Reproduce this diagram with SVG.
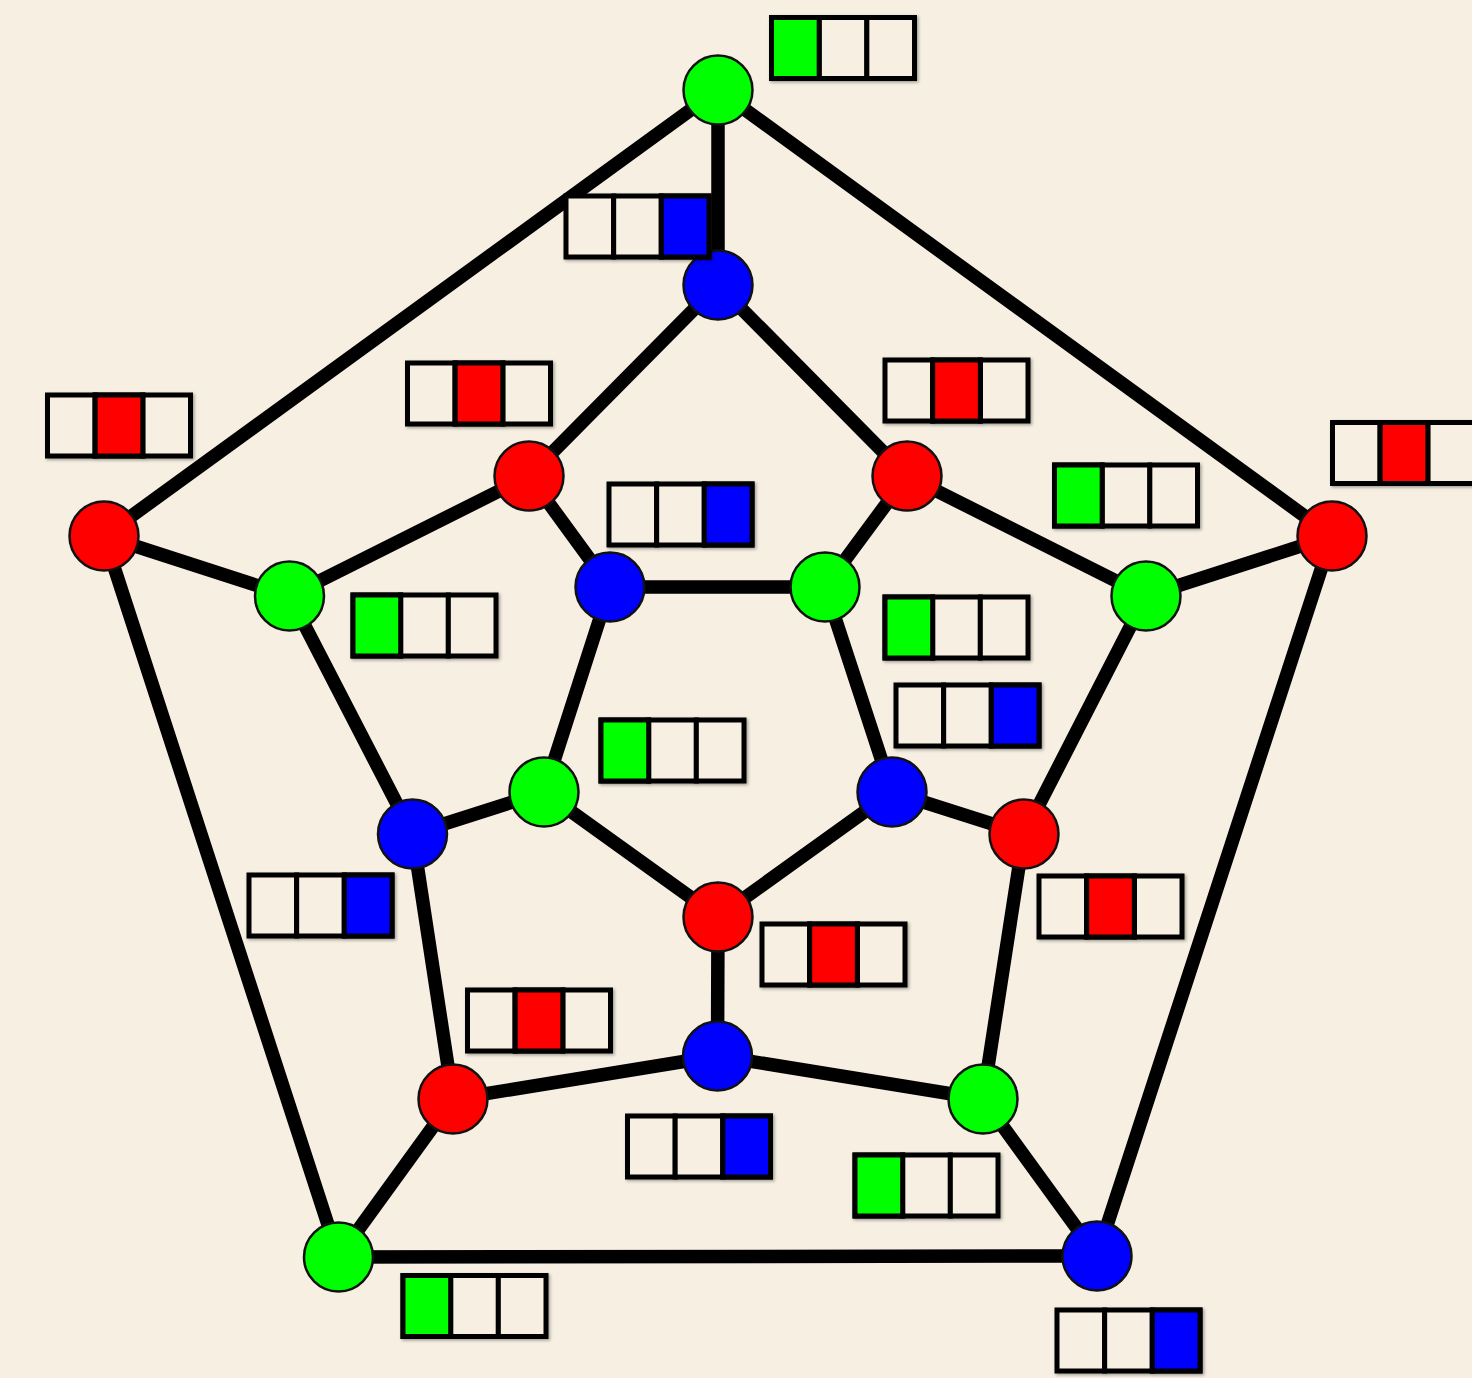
<svg xmlns="http://www.w3.org/2000/svg" width="1472" height="1378" viewBox="0 0 1472 1378">
  <style>
    .edge { stroke: #000; stroke-width: 13.5; stroke-linecap: round; fill: none; }
    .node { stroke: #111; stroke-width: 2.5; }
    .cell { stroke: #000; stroke-width: 5; fill: #f6efe2; }
    .g, .cell.g { fill: #00ff00; }
    .r, .cell.r { fill: #ff0000; }
    .b, .cell.b { fill: #0000ff; }
    .box { filter: url(#soft); }
  </style>
  <defs>
    <filter id="soft" x="-10%" y="-20%" width="130%" height="150%">
      <feDropShadow dx="1.5" dy="1.5" stdDeviation="1.8" flood-color="#000" flood-opacity="0.35"/>
    </filter>
    <!-- three-slot colour label: cells are 47.67 wide, 61 tall -->
    <g id="slots">
      <rect class="cell" x="0" y="0" width="47.67" height="61"/>
      <rect class="cell" x="47.67" y="0" width="47.67" height="61"/>
      <rect class="cell" x="95.33" y="0" width="47.67" height="61"/>
    </g>
  </defs>

  <rect width="1472" height="1378" fill="#f6efe2"/>

  <!-- edges of the dodecahedron graph -->
  <g id="edges">
    <!-- outer pentagon -->
    <line class="edge" x1="718" y1="90" x2="104" y2="536"/>
    <line class="edge" x1="718" y1="90" x2="1332" y2="536"/>
    <line class="edge" x1="104" y1="536" x2="338.5" y2="1257"/>
    <line class="edge" x1="1332" y1="536" x2="1097" y2="1256"/>
    <line class="edge" x1="338.5" y1="1257" x2="1097" y2="1256"/>
    <!-- spokes outer to middle ring -->
    <line class="edge" x1="718" y1="90" x2="718" y2="285"/>
    <line class="edge" x1="104" y1="536" x2="289.5" y2="596"/>
    <line class="edge" x1="1332" y1="536" x2="1146" y2="596"/>
    <line class="edge" x1="338.5" y1="1257" x2="453" y2="1099"/>
    <line class="edge" x1="1097" y1="1256" x2="983" y2="1099"/>
    <!-- middle ring -->
    <line class="edge" x1="718" y1="285" x2="529" y2="476"/>
    <line class="edge" x1="718" y1="285" x2="907" y2="476"/>
    <line class="edge" x1="529" y1="476" x2="289.5" y2="596"/>
    <line class="edge" x1="907" y1="476" x2="1146" y2="596"/>
    <line class="edge" x1="289.5" y1="596" x2="412.5" y2="834"/>
    <line class="edge" x1="1146" y1="596" x2="1024" y2="834"/>
    <line class="edge" x1="412.5" y1="834" x2="453" y2="1099"/>
    <line class="edge" x1="1024" y1="834" x2="983" y2="1099"/>
    <line class="edge" x1="453" y1="1099" x2="717.5" y2="1056"/>
    <line class="edge" x1="983" y1="1099" x2="717.5" y2="1056"/>
    <!-- spokes middle to inner -->
    <line class="edge" x1="529" y1="476" x2="610" y2="587"/>
    <line class="edge" x1="907" y1="476" x2="825" y2="587"/>
    <line class="edge" x1="412.5" y1="834" x2="544" y2="792"/>
    <line class="edge" x1="1024" y1="834" x2="892" y2="792"/>
    <line class="edge" x1="717.5" y1="1056" x2="718" y2="917"/>
    <!-- inner pentagon -->
    <line class="edge" x1="610" y1="587" x2="825" y2="587"/>
    <line class="edge" x1="610" y1="587" x2="544" y2="792"/>
    <line class="edge" x1="825" y1="587" x2="892" y2="792"/>
    <line class="edge" x1="544" y1="792" x2="718" y2="917"/>
    <line class="edge" x1="892" y1="792" x2="718" y2="917"/>
  </g>

  <!-- vertices with their colour labels -->
  <g id="n1">
    <circle class="node g" cx="718" cy="90" r="34.5"/>
    <g class="box" transform="translate(771.5 17.5)"><use href="#slots"/><rect class="cell g" x="0" y="0" width="47.67" height="61"/></g>
  </g>
  <g id="n2">
    <circle class="node r" cx="104" cy="536" r="34.5"/>
    <g class="box" transform="translate(47.5 395)"><use href="#slots"/><rect class="cell r" x="47.67" y="0" width="47.67" height="61"/></g>
  </g>
  <g id="n3">
    <circle class="node r" cx="1332" cy="536" r="34.5"/>
    <g class="box" transform="translate(1332.5 422.5)"><use href="#slots"/><rect class="cell r" x="47.67" y="0" width="47.67" height="61"/></g>
  </g>
  <g id="n4">
    <circle class="node g" cx="338.5" cy="1257" r="34.5"/>
    <g class="box" transform="translate(403 1275.5)"><use href="#slots"/><rect class="cell g" x="0" y="0" width="47.67" height="61"/></g>
  </g>
  <g id="n5">
    <circle class="node b" cx="1097" cy="1256" r="34.5"/>
    <g class="box" transform="translate(1057 1310)"><use href="#slots"/><rect class="cell b" x="95.33" y="0" width="47.67" height="61"/></g>
  </g>
  <g id="n6">
    <circle class="node b" cx="718" cy="285" r="34.5"/>
    <g class="box" transform="translate(566 196)"><use href="#slots"/><rect class="cell b" x="95.33" y="0" width="47.67" height="61"/></g>
  </g>
  <g id="n7">
    <circle class="node r" cx="529" cy="476" r="34.5"/>
    <g class="box" transform="translate(407.5 363)"><use href="#slots"/><rect class="cell r" x="47.67" y="0" width="47.67" height="61"/></g>
  </g>
  <g id="n8">
    <circle class="node r" cx="907" cy="476" r="34.5"/>
    <g class="box" transform="translate(885 360)"><use href="#slots"/><rect class="cell r" x="47.67" y="0" width="47.67" height="61"/></g>
  </g>
  <g id="n9">
    <circle class="node g" cx="289.5" cy="596" r="34.5"/>
    <g class="box" transform="translate(353 595)"><use href="#slots"/><rect class="cell g" x="0" y="0" width="47.67" height="61"/></g>
  </g>
  <g id="n10">
    <circle class="node g" cx="1146" cy="596" r="34.5"/>
    <g class="box" transform="translate(1054.5 465)"><use href="#slots"/><rect class="cell g" x="0" y="0" width="47.67" height="61"/></g>
  </g>
  <g id="n11">
    <circle class="node b" cx="412.5" cy="834" r="34.5"/>
    <g class="box" transform="translate(249 875)"><use href="#slots"/><rect class="cell b" x="95.33" y="0" width="47.67" height="61"/></g>
  </g>
  <g id="n12">
    <circle class="node r" cx="1024" cy="834" r="34.5"/>
    <g class="box" transform="translate(1039 876)"><use href="#slots"/><rect class="cell r" x="47.67" y="0" width="47.67" height="61"/></g>
  </g>
  <g id="n13">
    <circle class="node r" cx="453" cy="1099" r="34.5"/>
    <g class="box" transform="translate(467.5 990)"><use href="#slots"/><rect class="cell r" x="47.67" y="0" width="47.67" height="61"/></g>
  </g>
  <g id="n14">
    <circle class="node g" cx="983" cy="1099" r="34.5"/>
    <g class="box" transform="translate(855 1155)"><use href="#slots"/><rect class="cell g" x="0" y="0" width="47.67" height="61"/></g>
  </g>
  <g id="n15">
    <circle class="node b" cx="717.5" cy="1056" r="34.5"/>
    <g class="box" transform="translate(627.5 1116)"><use href="#slots"/><rect class="cell b" x="95.33" y="0" width="47.67" height="61"/></g>
  </g>
  <g id="n16">
    <circle class="node b" cx="610" cy="587" r="34.5"/>
    <g class="box" transform="translate(609 484)"><use href="#slots"/><rect class="cell b" x="95.33" y="0" width="47.67" height="61"/></g>
  </g>
  <g id="n17">
    <circle class="node g" cx="825" cy="587" r="34.5"/>
    <g class="box" transform="translate(885 597)"><use href="#slots"/><rect class="cell g" x="0" y="0" width="47.67" height="61"/></g>
  </g>
  <g id="n18">
    <circle class="node g" cx="544" cy="792" r="34.5"/>
    <g class="box" transform="translate(601 720)"><use href="#slots"/><rect class="cell g" x="0" y="0" width="47.67" height="61"/></g>
  </g>
  <g id="n19">
    <circle class="node b" cx="892" cy="792" r="34.5"/>
    <g class="box" transform="translate(896 685)"><use href="#slots"/><rect class="cell b" x="95.33" y="0" width="47.67" height="61"/></g>
  </g>
  <g id="n20">
    <circle class="node r" cx="718" cy="917" r="34.5"/>
    <g class="box" transform="translate(762 924)"><use href="#slots"/><rect class="cell r" x="47.67" y="0" width="47.67" height="61"/></g>
  </g>
</svg>
